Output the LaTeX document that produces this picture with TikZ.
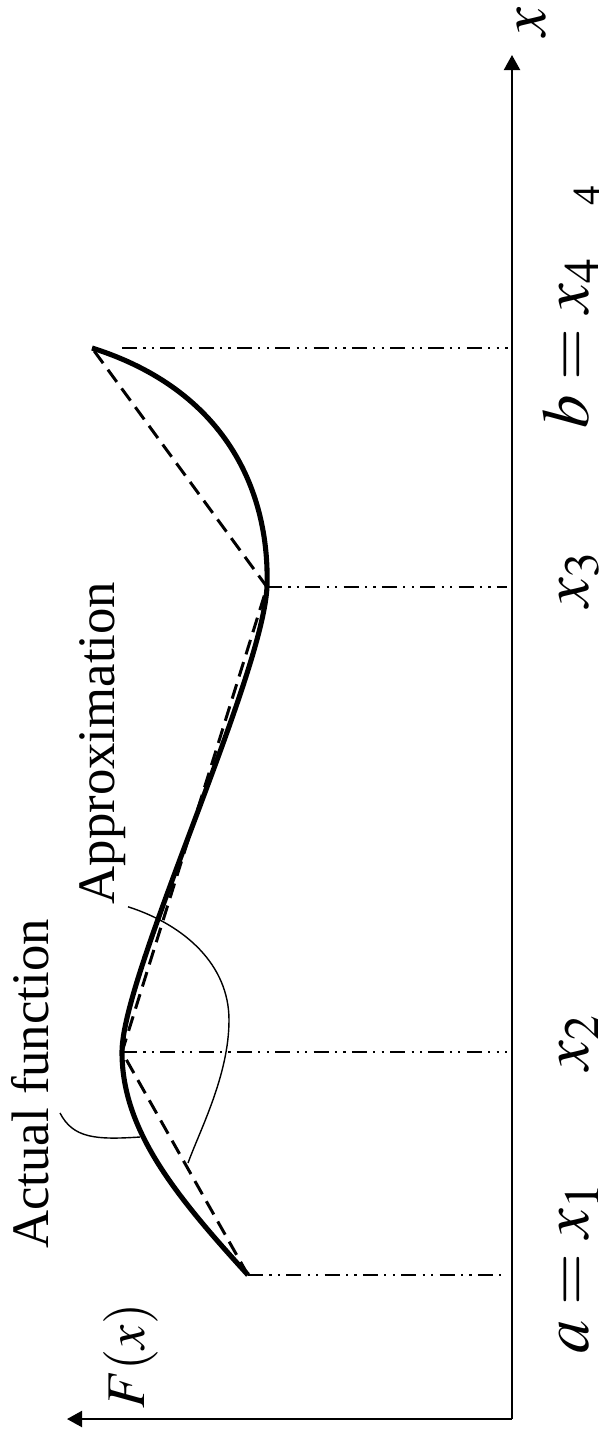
\documentclass[tikz,border=0pt]{standalone}
\usepackage{mathptmx}
\usepackage[no-math]{fontspec}
\setmainfont{Liberation Serif}
\usetikzlibrary{arrows.meta}

\begin{document}
\begin{tikzpicture}[
        x=0.1mm, y=-0.1mm,
        every node/.style={rotate=90, inner sep=0pt, anchor=base},
        axe/.style={line width=0.6pt, -{Triangle[length=1.5mm, width=1.6mm]}},
        reel/.style={line width=1.45pt, line join=round},
        approx/.style={line width=0.85pt, dash pattern=on 4.3pt off 2.3pt},
        guide/.style={line width=0.4pt, dash pattern=on 4.3pt off 1.8pt on 0.6pt off 1.8pt on 0.6pt off 1.8pt},
        leader/.style={line width=0.4pt},
        lbl/.style={font=\fontsize{15}{17}\selectfont},
        xlbl/.style={font=\fontsize{19}{21}\selectfont}
    ]
    \useasboundingbox (0,0) rectangle (605,1441);

% --- Ejes ---
    \coordinate (O) at (512,1419);
    \coordinate (xend) at (512,55);
    \coordinate (Fend) at (67,1419);
    \draw[axe] (O) -- (xend);
    \draw[axe] (O) -- (Fend);
    \node[font=\fontsize{18.5}{20}\selectfont] (xlab) at (545,22) {$x$};
    \node[font=\fontsize{15.5}{17}\selectfont] (Flab) at (145,1356) {$F(x)$};

% --- Nodos de la aproximacion ---
    \coordinate (p1) at (248,1275);
    \coordinate (p2) at (122,1052);
    \coordinate (p3) at (267,587);
    \coordinate (p4) at (92,348);

    \foreach \p in {p1,p2,p3}
        \draw[guide, shorten >=0.5mm] (\p) -- (\p -| O);
    \draw[guide, shorten <=3mm, shorten >=0.4mm] (p4) -- (p4 -| O);

% --- Funcion real y aproximacion ---
    \draw[reel] (p1) .. controls (175,1195) and (122,1130) .. (p2)
        .. controls (122,975) and (262,680) .. (p3)
        .. controls (270,490) and (225,390) .. (p4);
    \draw[approx] (p1) -- (p2) -- (p3) -- (p4);

% --- Etiquetas del eje x ---
    \node[xlbl] (a1) at (588,1268) {$a = x_1$};
    \node[xlbl] (a2) at (588,1042) {$x_2$};
    \node[xlbl] (a3) at (588,579) {$x_3$};
    \node[xlbl] (a4) at (588,343) {$b = x_4$};
    \node[font=\fontsize{11}{12}\selectfont] (stray) at (599,196) {4};

% --- Rotulos con lineas de referencia ---
    \node[lbl] (actual) at (48,1084) {Actual function};
    \node[lbl] (aprox) at (115,743) {Approximation};
    \coordinate (onreal) at (140,1137);
    \coordinate (ondash) at (188,1163);
    \draw[leader] ([xshift=1.2mm, yshift=-2.9mm]actual.base)
        .. controls (73,1138) and (95,1140) .. (onreal);
    \draw[leader] ([xshift=1.3mm, yshift=-0.2mm]aprox.base west)
        .. controls (185,925) and (229,965) .. (229,1020)
        .. controls (229,1075) and (200,1130) .. (ondash);
\end{tikzpicture}
\end{document}
